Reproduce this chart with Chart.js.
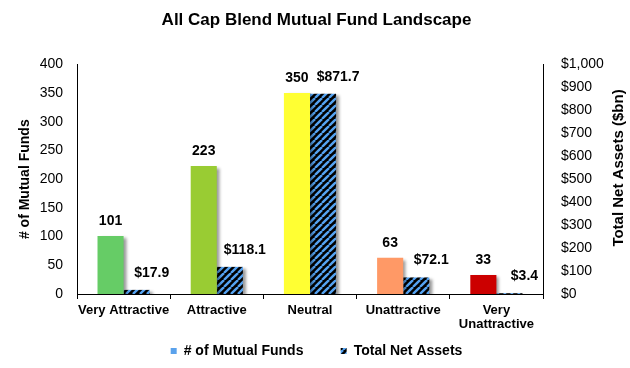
<!DOCTYPE html>
<html><head><meta charset="utf-8">
<script src="https://cdn.jsdelivr.net/npm/chart.js@4.4.1/dist/chart.umd.min.js"></script>
<style>html,body{margin:0;padding:0;background:#fff}#w{width:630px;height:368px}</style>
</head><body><div id="w"><canvas id="c" width="630" height="368"></canvas></div>
<script>
const categories = [["Very Attractive"], ["Attractive"], ["Neutral"], ["Unattractive"], ["Very", "Unattractive"]];
const fundCounts = [101, 223, 350, 63, 33];
const netAssets = [17.9, 118.1, 871.7, 72.1, 3.4];
const fundColors = ["#66cc66", "#99cc33", "#ffff33", "#ff9966", "#cc0000"];
const leftTicks = [0, 50, 100, 150, 200, 250, 300, 350, 400];
const rightTicks = [0, 100, 200, 300, 400, 500, 600, 700, 800, 900, 1000];

const FONT = "'Liberation Sans', Arial, sans-serif";

function makePattern(){
  const s = 7;
  const p = document.createElement('canvas'); p.width = s; p.height = s;
  const g = p.getContext('2d');
  g.fillStyle = '#000'; g.fillRect(0,0,s,s);
  g.strokeStyle = '#55a3f2'; g.lineWidth = 2.4;
  for (let k = -1; k <= 1; k++) {
    g.beginPath(); g.moveTo(k*s, s); g.lineTo(k*s + s, 0); g.stroke();
  }
  return document.getElementById('c').getContext('2d').createPattern(p, 'repeat');
}
const hatch = makePattern();

const shadowPlugin = {
  id: 'shadow',
  beforeDatasetsDraw(chart){
    const ctx = chart.ctx; ctx.save();
    ctx.shadowColor = 'rgba(0,0,0,0.4)'; ctx.shadowBlur = 3; ctx.shadowOffsetX = 3; ctx.shadowOffsetY = 2;
  },
  afterDatasetsDraw(chart){ chart.ctx.restore(); }
};

const labelPlugin = {
  id: 'vlabels',
  afterDatasetsDraw(chart){
    const ctx = chart.ctx; ctx.save();
    ctx.font = "bold 14px " + FONT; ctx.fillStyle = '#000';
    ctx.textAlign = 'center'; ctx.textBaseline = 'middle';
    chart.getDatasetMeta(0).data.forEach((b, i) => {
      ctx.fillText(String(fundCounts[i]), b.x, b.y - 15);
    });
    chart.getDatasetMeta(1).data.forEach((b, i) => {
      ctx.fillText('$' + netAssets[i].toFixed(1), b.x + 15, b.y - 17);
    });
    // right axis title, reading bottom-to-top
    ctx.font = "bold 15px " + FONT;
    ctx.translate(619, 168);
    ctx.rotate(-Math.PI / 2);
    ctx.fillText('Total Net Assets ($bn)', 0, 0);
    ctx.restore();
  }
};

new Chart(document.getElementById('c'), {
  type: 'bar',
  data: {
    labels: categories,
    datasets: [
      { label: '# of Mutual Funds', data: fundCounts, backgroundColor: fundColors, yAxisID: 'y', categoryPercentage: 0.56, barPercentage: 1 },
      { label: 'Total Net Assets', data: netAssets, backgroundColor: hatch, yAxisID: 'y2', categoryPercentage: 0.56, barPercentage: 1 }
    ]
  },
  options: {
    responsive: false, animation: false,
    layout: { padding: { left: 3, right: 0, top: 0, bottom: 0 } },
    plugins: {
      title: { display: true, text: 'All Cap Blend Mutual Fund Landscape', color: '#000',
               font: { family: FONT, size: 17, weight: 'bold' }, padding: { top: 10, bottom: 34 } },
      legend: { position: 'bottom',
        labels: { color: '#000', font: { family: FONT, size: 14, weight: 'bold' }, boxWidth: 6, boxHeight: 6, padding: 10,
          generateLabels(){ return [
            { text: '# of Mutual Funds       ', fillStyle: '#5aa2ec', strokeStyle: '#5aa2ec', lineWidth: 0, datasetIndex: 0 },
            { text: 'Total Net Assets', fillStyle: hatch, strokeStyle: '#000', lineWidth: 0, datasetIndex: 1 }
          ]; } } },
      tooltip: { enabled: false }
    },
    scales: {
      x: {
        afterFit(s){ s.height = 40; },
        grid: { display: true, drawOnChartArea: false, drawTicks: true, tickLength: 5, color: '#000', offset: true },
        border: { display: true, color: '#000', width: 1 },
        ticks: { color: '#000', font: { family: FONT, size: 13, weight: 'bold', lineHeight: 1.1 }, padding: 4, maxRotation: 0, autoSkip: false }
      },
      y: {
        position: 'left', min: 0, max: 400,
        afterFit(s){ s.width = 74; },
        afterBuildTicks(s){ s.ticks = leftTicks.map(v => ({ value: v })); },
        grid: { display: false }, border: { display: true, color: '#000' },
        ticks: { color: '#000', font: { family: FONT, size: 14 }, padding: 6 },
        title: { display: true, text: '# of Mutual Funds', color: '#000', font: { family: FONT, size: 14, weight: 'bold' }, padding: { top: 14, bottom: 0 } }
      },
      y2: {
        position: 'right', min: 0, max: 1000,
        afterFit(s){ s.width = 87; },
        afterBuildTicks(s){ s.ticks = rightTicks.map(v => ({ value: v })); },
        grid: { display: false }, border: { display: true, color: '#000' },
        ticks: { color: '#000', font: { family: FONT, size: 14 }, padding: 10,
                 callback(v){ return '$' + v.toLocaleString('en-US'); } }
      }
    }
  },
  plugins: [shadowPlugin, labelPlugin]
});
</script></body></html>
